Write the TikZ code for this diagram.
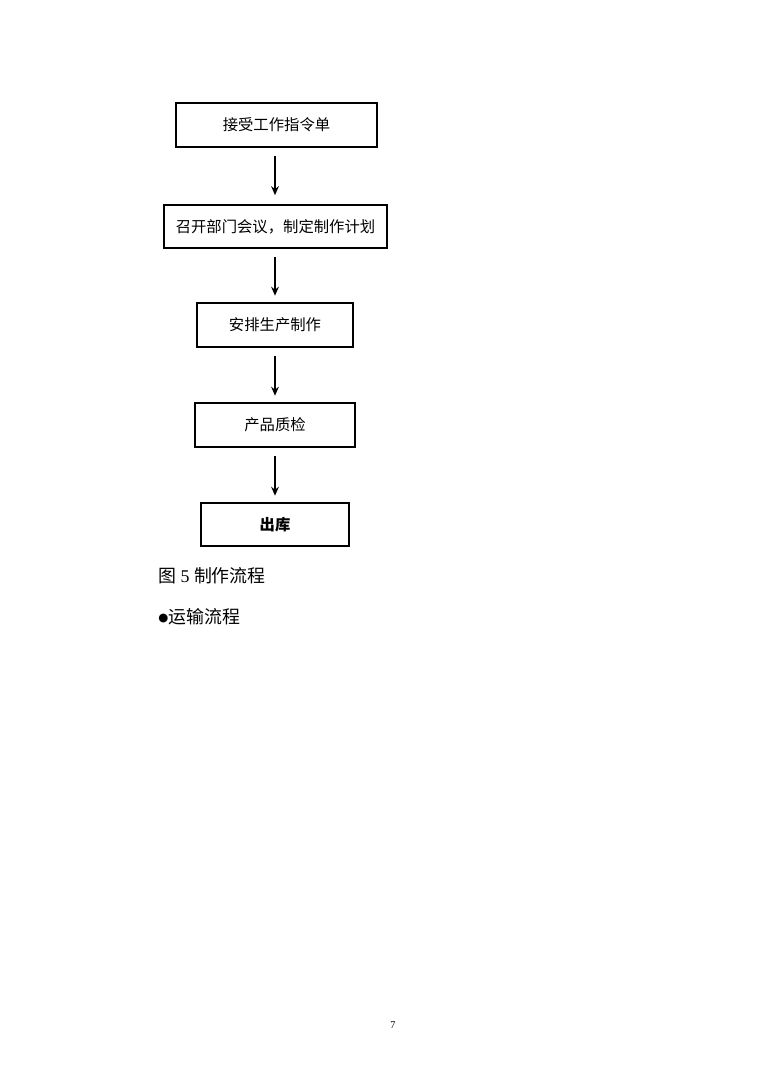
\documentclass[tikz,border=0pt]{standalone}
\usepackage{fontspec}
\setmainfont{Liberation Serif}
\newfontfamily\cjk{Noto Sans CJK SC}
\newfontfamily\symb{DejaVu Sans}
\usetikzlibrary{arrows.meta}
\tikzset{
  stepbox/.style={draw, line width=1.4pt, inner sep=0pt, font=\cjk\fontsize{12}{14}\selectfont},
  flow/.style={->, line width=1.3pt, shorten <=6pt, shorten >=5pt},
}
\begin{document}
\begin{tikzpicture}[x=0.782pt, y=-0.782pt, >={Stealth[length=7pt, width=6pt]}]
   \useasboundingbox (0,0) rectangle (761,1077);
   \node[stepbox, minimum width=157.2pt, minimum height=34.4pt] (recv) at (276.5,125) {接受工作指令单};
   \node[stepbox, minimum width=174.4pt, minimum height=33.6pt] (meet) at (275.5,226.5) {召开部门会议，制定制作计划};
   \node[stepbox, minimum width=122pt, minimum height=34.4pt] (prod) at (275,325) {安排生产制作};
   \node[stepbox, minimum width=125.1pt, minimum height=34.4pt] (qc) at (275,425) {产品质检};
   \node[stepbox, minimum width=115.7pt, minimum height=33.6pt] (out) at (275,524.5) {\bfseries 出库};
   \draw[flow, shorten >=7pt] (recv.south -| prod) -- (meet.north -| prod);
   \draw[flow] (meet.south -| prod) -- (prod.north);
   \draw[flow] (prod.south) -- (qc.north);
   \draw[flow] (qc.south) -- (out.north);
   % caption and text below
   \node[anchor=west, inner sep=0pt, font=\fontsize{14}{16}\selectfont] (cap) at (158,576) {{\cjk 图} 5 {\cjk 制作流程}};
   \node[anchor=west, inner sep=0pt, font=\fontsize{14}{16}\selectfont] (trans) at (158,617) {\raisebox{1.5pt}{\symb\fontsize{9}{11}\selectfont ●}{\cjk 运输流程}};
   \node[inner sep=0pt, font=\fontsize{8}{10}\selectfont] (page) at (393,1025) {7};
\end{tikzpicture}
\end{document}
